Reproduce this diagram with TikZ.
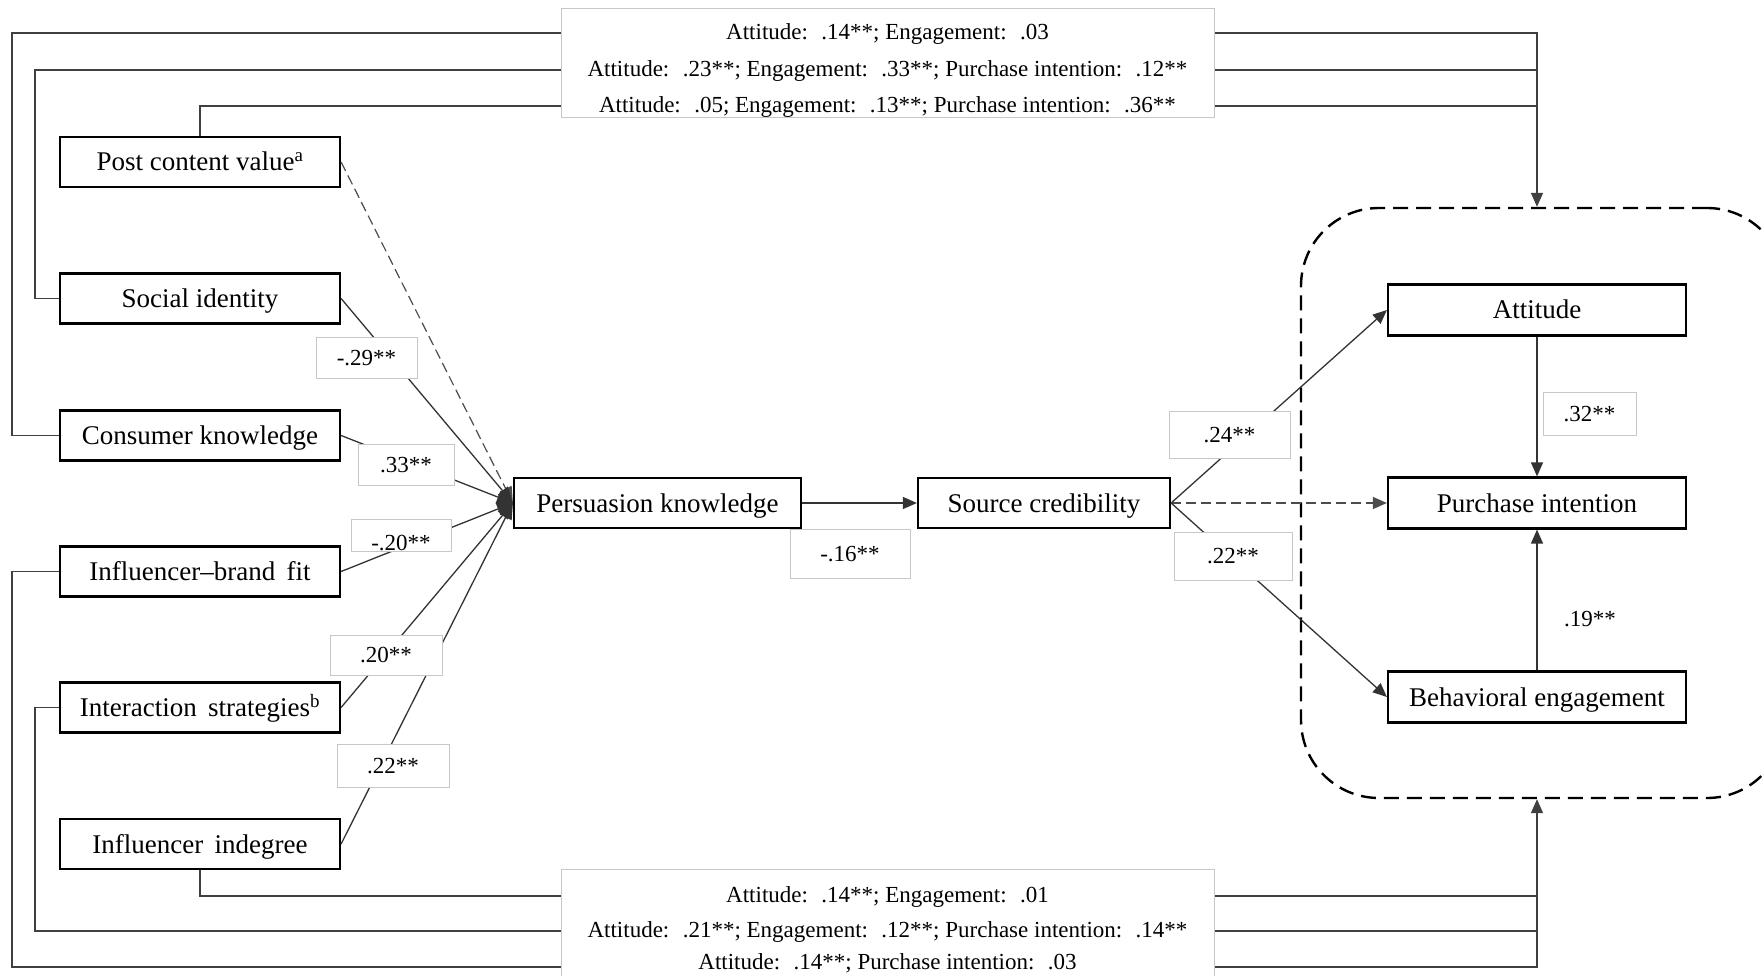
\documentclass[tikz,border=0pt]{standalone}
\usepackage{fontspec}
\setmainfont{Liberation Serif}
\usetikzlibrary{arrows.meta,calc}

\begin{document}
\begin{tikzpicture}[x=1pt,y=-1pt,
  var/.style={draw=black, line width=2.2pt, fill=white, inner sep=0pt,
    minimum height=50pt, text height=22pt, text depth=4pt,
    font=\fontsize{27}{32}\selectfont},
  coef/.style={draw=black!22, line width=0.9pt, fill=white, inner sep=0pt,
    text height=19pt, text depth=3.5pt, font=\fontsize{23}{28}\selectfont},
  coeftext/.style={inner sep=0pt, text height=19pt, text depth=3.5pt,
    font=\fontsize{23}{28}\selectfont},
  note/.style={draw=black!22, line width=0.9pt, fill=white},
  notetext/.style={inner sep=0pt, text height=19pt, text depth=3.5pt,
    font=\fontsize{23}{28}\selectfont},
  link/.style={draw=black!80, line width=1.3pt},
  linkdash/.style={draw=black!70, line width=1.2pt, dash pattern=on 10pt off 5pt},
  outer/.style={draw=black!75, line width=1.6pt},
  arr/.style={-{Triangle[length=14pt,width=12pt]}},
  fan/.style={-{Triangle[length=16pt,width=13pt]}},
  group/.style={draw=black, line width=2.4pt, dash pattern=on 15pt off 8pt,
    rounded corners=78pt, inner sep=0pt}
]
\useasboundingbox (0,0) rectangle (1762,976);
\clip (0,0) rectangle (1762,976);

% ---- outcome group (dashed frame) ----
\node[group, minimum width=484pt, minimum height=590pt] (outcomes) at (1543,503) {};

% ---- variables ----
\node[var, minimum width=280pt] (post)     at (200,162)   {Post content value\textsuperscript{a}};
\node[var, minimum width=280pt] (social)   at (200,298.5) {Social identity};
\node[var, minimum width=280pt] (consumer) at (200,435.5) {Consumer knowledge};
\node[var, minimum width=280pt] (fit)      at (200,571.5) {Influencer--brand\, fit};
\node[var, minimum width=280pt] (interact) at (200,707.5) {Interaction\, strategies\textsuperscript{b}};
\node[var, minimum width=280pt] (indeg)    at (200,844)   {Influencer\, indegree};

\node[var, minimum width=287pt] (pk) at (657.5,503) {Persuasion knowledge};
\node[var, minimum width=252pt] (sc) at (1044,503)  {Source credibility};

\node[var, minimum width=298pt, minimum height=51pt] (att) at (1537,310) {Attitude};
\node[var, minimum width=298pt, minimum height=51pt] (pi)  at (1537,503) {Purchase intention};
\node[var, minimum width=298pt, minimum height=51pt] (be)  at (1537,697) {Behavioral engagement};

% ---- end points of the control paths on the frame ----
\coordinate (frametop) at (outcomes.north -| att.north);
\coordinate (framebot) at (outcomes.south -| be.south);
\coordinate (tA) at (12,33);
\coordinate (tB) at (35,70);
\coordinate (jB) at (1537,70);
\coordinate (jC) at (1537,106);
\coordinate (bA) at (12,967);
\coordinate (bB) at (35,931);
\coordinate (jbB) at (1537,931);
\coordinate (jbC) at (1537,896);

% ---- control paths to the outcome group ----
\draw[outer, arr] (consumer.west) -| (tA) -| (frametop);
\draw[outer] (social.west) -| (tB) -- (jB);
\draw[outer] (post.north) |- (jC);
\draw[outer, arr] (fit.west) -| (bA) -| (framebot);
\draw[outer] (interact.west) -| (bB) -- (jbB);
\draw[outer] (indeg.south) |- (jbC);

% ---- paths into persuasion knowledge ----
\draw[linkdash, fan] (post.east) -- (pk.west);
\draw[link, fan] (social.east) -- (pk.west);
\draw[link, fan] (consumer.east) -- (pk.west);
\draw[link, fan] (fit.east) -- (pk.west);
\draw[link, fan] (interact.east) -- (pk.west);
\draw[link, fan] (indeg.east) -- (pk.west);

% ---- main chain ----
\draw[link, arr] (pk.east) -- (sc.west);
\draw[link, arr] (sc.east) -- (att.west);
\draw[linkdash, arr] (sc.east) -- (pi.west);
\draw[link, arr] (sc.east) -- (be.west);
\draw[link, arr] (att.south) -- (pi.north);
\draw[link, arr] (be.north) -- (pi.south);

% ---- path coefficients ----
\node[coef, minimum width=101pt, minimum height=41pt] (c1) at (366.5,357.5) {-.29**};
\node[coef, minimum width=96pt,  minimum height=41pt] (c2) at (406,464.5)   {.33**};
\node[coef, minimum width=100pt, minimum height=32pt] (c3) at (401,535) {};
\node[coeftext] (c3t) at (401,543) {-.20**};
\node[coef, minimum width=112pt, minimum height=40pt] (c4) at (386,655)   {.20**};
\node[coef, minimum width=112pt, minimum height=43pt] (c5) at (393,765.5) {.22**};
\node[coef, minimum width=120pt, minimum height=49pt] (c6) at (850,553.5) {-.16**};
\node[coef, minimum width=121pt, minimum height=47pt] (c7) at (1229.5,434.5) {.24**};
\node[coef, minimum width=118pt, minimum height=48pt] (c8) at (1233,556)   {.22**};
\node[coef, minimum width=93pt,  minimum height=43pt] (c9) at (1589.5,413.5) {.32**};
\node[coeftext] (c10) at (1590,619) {.19**};

% ---- control effects ----
\node[note, minimum width=653pt, minimum height=109pt] (topnote) at (887.5,62.5) {};
\node[notetext] (topA) at (887.5,32)  {Attitude:~ .14**; Engagement:~ .03};
\node[notetext] (topB) at (887.5,69)  {Attitude:~ .23**; Engagement:~ .33**; Purchase intention:~ .12**};
\node[notetext] (topC) at (887.5,105) {Attitude:~ .05; Engagement:~ .13**; Purchase intention:~ .36**};

\node[note, minimum width=653pt, minimum height=130pt] (botnote) at (887.5,934) {};
\node[notetext] (botA) at (887.5,895) {Attitude:~ .14**; Engagement:~ .01};
\node[notetext] (botB) at (887.5,930) {Attitude:~ .21**; Engagement:~ .12**; Purchase intention:~ .14**};
\node[notetext] (botC) at (887.5,962) {Attitude:~ .14**; Purchase intention:~ .03};
\end{tikzpicture}
\end{document}
